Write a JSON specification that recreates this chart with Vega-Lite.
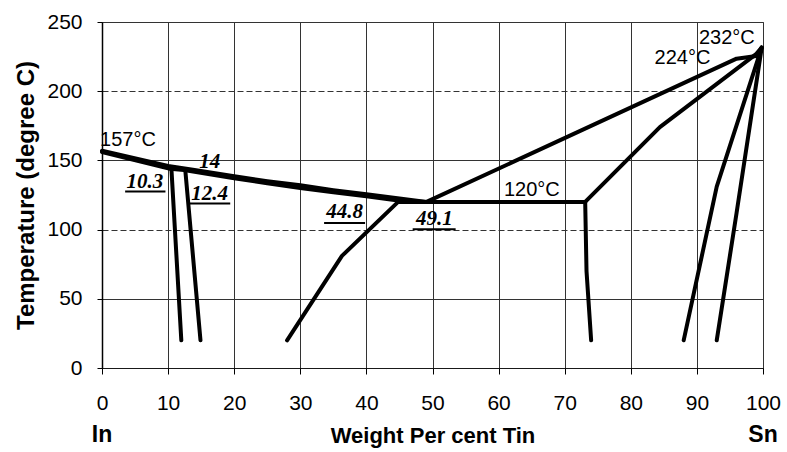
{
  "$schema": "https://vega.github.io/schema/vega-lite/v6.json",
  "autosize": {"type": "none"},
  "width": 661,
  "height": 346,
  "padding": {"left": 102, "top": 22, "right": 24, "bottom": 84},
  "background": "white",
  "config": {
    "view": {"stroke": "#000", "strokeWidth": 1, "strokeDash": [1, 1]},
    "font": "Liberation Sans"
  },
  "datasets": {
    "curves": [
      {"s": "liqIn", "o": 1, "x": 0, "y": 157},
      {"s": "liqIn", "o": 2, "x": 10, "y": 146},
      {"s": "liqIn", "o": 3, "x": 14, "y": 143},
      {"s": "liqIn", "o": 4, "x": 20, "y": 138.5},
      {"s": "liqIn", "o": 5, "x": 25, "y": 135},
      {"s": "liqIn", "o": 6, "x": 30, "y": 132},
      {"s": "liqIn", "o": 7, "x": 35, "y": 128.5},
      {"s": "liqIn", "o": 8, "x": 40, "y": 125.5},
      {"s": "liqIn", "o": 9, "x": 45, "y": 122.5},
      {"s": "liqIn", "o": 10, "x": 49.1, "y": 120},
      {"s": "solIn", "o": 1, "x": 0, "y": 156},
      {"s": "solIn", "o": 2, "x": 10.3, "y": 144},
      {"s": "solIn", "o": 3, "x": 12.4, "y": 143},
      {"s": "solIn", "o": 4, "x": 20, "y": 137},
      {"s": "solIn", "o": 5, "x": 25, "y": 133.5},
      {"s": "solIn", "o": 6, "x": 30, "y": 130},
      {"s": "solIn", "o": 7, "x": 35, "y": 127},
      {"s": "solIn", "o": 8, "x": 40, "y": 124},
      {"s": "solIn", "o": 9, "x": 44.8, "y": 121},
      {"s": "solIn", "o": 10, "x": 49.1, "y": 120},
      {"s": "v1", "o": 1, "x": 10.5, "y": 144},
      {"s": "v1", "o": 2, "x": 12, "y": 20},
      {"s": "v2", "o": 1, "x": 12.6, "y": 143},
      {"s": "v2", "o": 2, "x": 14.9, "y": 20},
      {"s": "beta", "o": 1, "x": 28, "y": 20},
      {"s": "beta", "o": 2, "x": 36.3, "y": 81},
      {"s": "beta", "o": 3, "x": 44.8, "y": 120},
      {"s": "eut", "o": 1, "x": 44.8, "y": 120},
      {"s": "eut", "o": 2, "x": 73.1, "y": 120},
      {"s": "liqSn", "o": 1, "x": 49.1, "y": 120},
      {"s": "liqSn", "o": 2, "x": 96, "y": 223.5},
      {"s": "liqSn", "o": 3, "x": 99, "y": 225.5},
      {"s": "liqSn", "o": 4, "x": 99.8, "y": 231.5},
      {"s": "solSn", "o": 1, "x": 73.1, "y": 120},
      {"s": "solSn", "o": 2, "x": 84.4, "y": 174},
      {"s": "solSn", "o": 3, "x": 99, "y": 227},
      {"s": "solSn", "o": 4, "x": 99.8, "y": 231.5},
      {"s": "v3", "o": 1, "x": 73.1, "y": 120},
      {"s": "v3", "o": 2, "x": 73.3, "y": 70},
      {"s": "v3", "o": 3, "x": 74, "y": 20},
      {"s": "r1", "o": 1, "x": 88, "y": 20},
      {"s": "r1", "o": 2, "x": 93, "y": 131},
      {"s": "r1", "o": 3, "x": 99.8, "y": 231.5},
      {"s": "r2", "o": 1, "x": 93, "y": 20},
      {"s": "r2", "o": 2, "x": 96, "y": 112},
      {"s": "r2", "o": 3, "x": 99.8, "y": 231.5}
    ],
    "temps": [
      {"label": "157°C", "x": -0.3, "y": 165},
      {"label": "120°C", "x": 60.8, "y": 128.5},
      {"label": "224°C", "x": 83.6, "y": 224},
      {"label": "232°C", "x": 90.3, "y": 238.5}
    ],
    "comps": [
      {"label": "14", "x": 16.3, "y": 148.5},
      {"label": "10.3", "x": 6.5, "y": 134.5},
      {"label": "12.4", "x": 16.3, "y": 125.5},
      {"label": "44.8", "x": 36.7, "y": 112.5},
      {"label": "49.1", "x": 50.3, "y": 107.3}
    ],
    "underlines": [
      {"x": 3.5, "x2": 9.6, "y": 127.6},
      {"x": 13.3, "x2": 19.4, "y": 118.9},
      {"x": 33.6, "x2": 39.8, "y": 104.8},
      {"x": 47.0, "x2": 53.5, "y": 100.2}
    ],
    "ends": [
      {"label": "In", "x": 0, "y": -48.5},
      {"label": "Sn", "x": 100, "y": -48.5}
    ]
  },
  "layer": [
    {
      "data": {"name": "curves"},
      "mark": {"type": "line", "color": "#000", "strokeWidth": 4, "strokeJoin": "round", "strokeCap": "round"},
      "encoding": {
        "x": {
          "field": "x", "type": "quantitative",
          "scale": {"domain": [0, 100], "nice": false},
          "axis": {
            "title": "Weight Per cent Tin",
            "values": [0, 10, 20, 30, 40, 50, 60, 70, 80, 90, 100],
            "grid": true, "gridColor": "#333", "gridWidth": 1, "gridOpacity": 1,
            "domainColor": "#000", "domainWidth": 1, "domainDash": [1, 1],
            "tickColor": "#000", "tickSize": 6,
            "labelFont": "Liberation Sans", "labelFontSize": 21, "labelColor": "#000", "labelPadding": 18,
            "labelFlush": false,
            "titleFont": "Liberation Sans", "titleFontSize": 22, "titleFontWeight": "bold", "titleColor": "#000", "titlePadding": 12
          }
        },
        "y": {
          "field": "y", "type": "quantitative",
          "scale": {"domain": [0, 250], "nice": false},
          "axis": {
            "title": "Temperature (degree C)",
            "values": [0, 50, 100, 150, 200, 250],
            "grid": true, "gridColor": "#333", "gridWidth": 1, "gridOpacity": 1,
            "gridDash": {"condition": {"test": "datum.value === 100 || datum.value === 200", "value": [6, 3]}, "value": []},
            "domainColor": "#000", "domainWidth": 1.5,
            "tickColor": "#000", "tickSize": 5,
            "labelFont": "Liberation Sans", "labelFontSize": 21, "labelColor": "#000", "labelPadding": 15,
            "labelFlush": false,
            "titleFont": "Liberation Sans", "titleFontSize": 24, "titleFontWeight": "bold", "titleColor": "#000", "titlePadding": 8
          }
        },
        "detail": {"field": "s", "type": "nominal"},
        "order": {"field": "o", "type": "quantitative"}
      }
    },
    {
      "data": {"name": "temps"},
      "mark": {"type": "text", "align": "left", "baseline": "middle", "font": "Liberation Sans", "fontSize": 20, "color": "#000"},
      "encoding": {
        "x": {"field": "x", "type": "quantitative"},
        "y": {"field": "y", "type": "quantitative"},
        "text": {"field": "label"}
      }
    },
    {
      "data": {"name": "comps"},
      "mark": {"type": "text", "align": "center", "baseline": "middle", "font": "Liberation Serif", "fontSize": 21, "fontStyle": "italic", "fontWeight": "bold", "color": "#000"},
      "encoding": {
        "x": {"field": "x", "type": "quantitative"},
        "y": {"field": "y", "type": "quantitative"},
        "text": {"field": "label"}
      }
    },
    {
      "data": {"name": "underlines"},
      "mark": {"type": "rule", "color": "#000", "strokeWidth": 2},
      "encoding": {
        "x": {"field": "x", "type": "quantitative"},
        "x2": {"field": "x2"},
        "y": {"field": "y", "type": "quantitative"}
      }
    },
    {
      "data": {"name": "ends"},
      "mark": {"type": "text", "align": "center", "baseline": "middle", "font": "Liberation Sans", "fontSize": 23, "fontWeight": "bold", "color": "#000", "clip": false},
      "encoding": {
        "x": {"field": "x", "type": "quantitative"},
        "y": {"field": "y", "type": "quantitative"},
        "text": {"field": "label"}
      }
    }
  ]
}
